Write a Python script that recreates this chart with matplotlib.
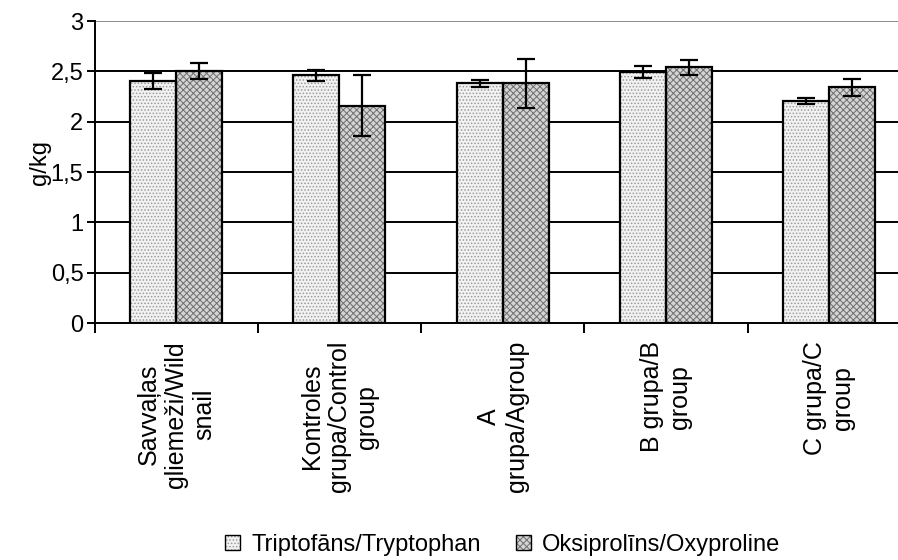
import matplotlib
matplotlib.use("Agg")
import matplotlib.pyplot as plt
from matplotlib.patches import Patch
from matplotlib.legend_handler import HandlerTuple
import numpy as np

plt.rcParams['font.family'] = ['Liberation Sans', 'DejaVu Sans']
plt.rcParams['hatch.linewidth'] = 0.7

categories = ["Savvaļas\ngliemeži/Wild\nsnail", "Kontroles\ngrupa/Control\ngroup",
              "A\ngrupa/Agroup", "B grupa/B\ngroup", "C grupa/C\ngroup"]
series_names = ["Triptofāns/Tryptophan", "Oksiprolīns/Oxyproline"]
tryptophan = [2.40, 2.46, 2.38, 2.49, 2.21]
tryptophan_err = [0.08, 0.055, 0.035, 0.06, 0.03]
oxyproline = [2.50, 2.16, 2.38, 2.54, 2.34]
oxyproline_err = [0.08, 0.30, 0.24, 0.077, 0.085]
yticks = [0, 0.5, 1, 1.5, 2, 2.5, 3]
ytick_labels = ["0", "0,5", "1", "1,5", "2", "2,5", "3"]

W, H = 898, 560
fig = plt.figure(figsize=(W / 100, H / 100), dpi=100)
left, right, top, bottom = 94.5, 911, 21, 323
ax = fig.add_axes([left / W, 1 - bottom / H, (right - left) / W, (bottom - top) / H])

x = np.arange(len(categories))
bw = 0.2815
off = 0.1407

styles = [
    dict(fc='#f2f2f2', hc='#9a9a9a', hatch='.....'),
    dict(fc='#d4d4d4', hc='#6e6e6e', hatch='xxxxx'),
]
datas = [(tryptophan, tryptophan_err), (oxyproline, oxyproline_err)]
handles = []
for i, ((vals, errs), st) in enumerate(zip(datas, styles)):
    pos = x - off if i == 0 else x + off
    ax.bar(pos, vals, bw, color=st['fc'], edgecolor=st['hc'], hatch=st['hatch'],
           linewidth=0, zorder=2)
    ax.bar(pos, vals, bw, fill=False, edgecolor='black', linewidth=1.6, zorder=3)
    ax.errorbar(pos, vals, yerr=errs, fmt='none', ecolor='black', elinewidth=1.6,
                capsize=6.5, capthick=1.6, zorder=4)
    h1 = Patch(facecolor=st['fc'], edgecolor=st['hc'], hatch=st['hatch'], linewidth=0)
    h2 = Patch(fill=False, edgecolor='black', linewidth=1.0)
    handles.append((h1, h2))

ax.set_xlim(-0.5, 4.5)
ax.set_ylim(0, 3)

for yv in yticks[1:]:
    col = '#8a8a8a' if yv == 3 else 'black'
    ax.axhline(yv, color=col, linewidth=1.4, zorder=1)

for s in ['top', 'right']:
    ax.spines[s].set_visible(False)
ax.spines['left'].set_linewidth(1.4)
ax.spines['bottom'].set_linewidth(1.4)

ax.set_yticks(yticks)
ax.set_yticklabels(ytick_labels, fontsize=17)
ax.tick_params(axis='y', direction='out', length=6, width=1.4, pad=2)

ax.set_xticks(np.arange(-0.5, 5.0, 1.0))
ax.set_xticklabels([])
ax.tick_params(axis='x', which='major', direction='out', length=7, width=1.4)
ax.set_xticks(x, minor=True)
ax.set_xticklabels(categories, minor=True, rotation=90, fontsize=18,
                   ha='center', va='top', multialignment='center')
ax.tick_params(axis='x', which='minor', length=0, pad=13)

fig.text(40 / W, 1 - 162 / H, "g/kg", rotation=90, fontsize=17, ha='center', va='center')

leg = fig.legend(handles, series_names, handler_map={tuple: HandlerTuple(ndivide=1)},
                 loc='center', bbox_to_anchor=(503 / W, 1 - 545 / H), ncol=2,
                 frameon=False, fontsize=17, handlelength=0.6, handleheight=0.6,
                 handletextpad=0.5, columnspacing=1.5, borderpad=0)

fig.savefig("out.png", dpi=100)
